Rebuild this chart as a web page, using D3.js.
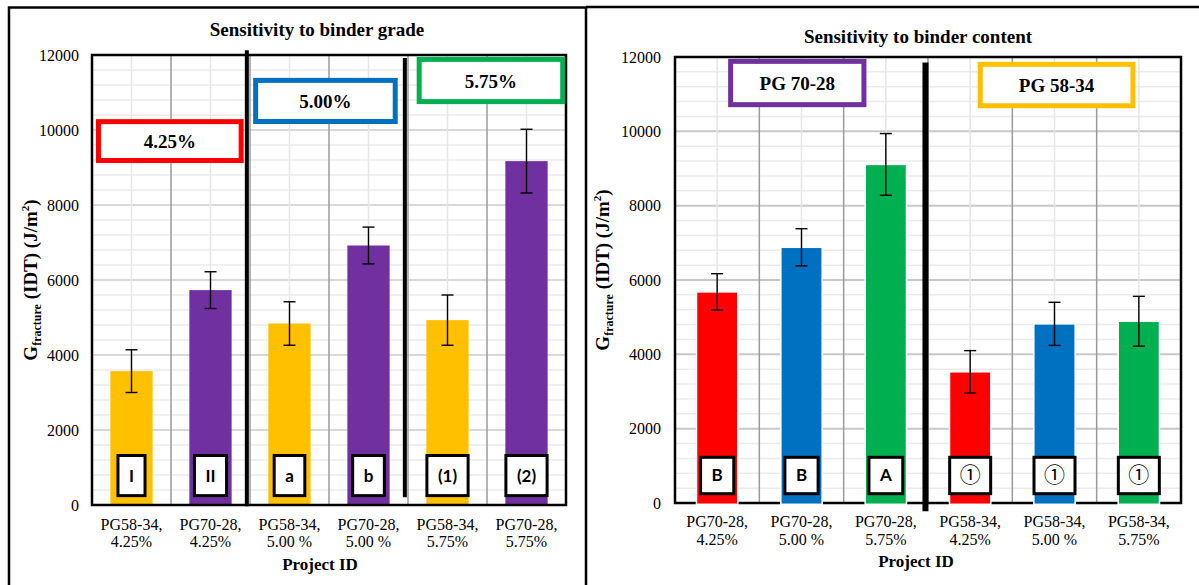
<!DOCTYPE html>
<html><head><meta charset="utf-8">
<script src="https://cdn.jsdelivr.net/npm/d3@7"></script>
<style>body{margin:0;background:#fff}svg{display:block}</style>
</head><body><svg id="c" width="1199" height="585"></svg>
<script>
// ---------- data ----------
const leftCategories = ["PG58-34, 4.25%","PG70-28, 4.25%","PG58-34, 5.00 %","PG70-28, 5.00 %","PG58-34, 5.75%","PG70-28, 5.75%"];
const leftValues = [3570, 5730, 4840, 6920, 4930, 9170];
const leftErrors = [570, 490, 580, 490, 670, 850];
const leftMarkers = ["I","II","a","b","(1)","(2)"];
const leftGroupLabels = ["4.25%","5.00%","5.75%"];

const rightCategories = ["PG70-28, 4.25%","PG70-28, 5.00 %","PG70-28, 5.75%","PG58-34, 4.25%","PG58-34, 5.00 %","PG58-34, 5.75%"];
const rightValues = [5680, 6880, 9110, 3530, 4820, 4890];
const rightErrors = [490, 500, 830, 570, 580, 670];
const rightMarkers = ["B","B","A","\u2460","\u2460","\u2460"];
const rightGroupLabels = ["PG 70-28","PG 58-34"];

const yTicks = [0, 2000, 4000, 6000, 8000, 10000, 12000];

// ---------- styles / layout ----------
const leftColors = ["#FFC000","#7030A0","#FFC000","#7030A0","#FFC000","#7030A0"];
const rightColors = ["#FF0000","#0070C0","#00B050","#FF0000","#0070C0","#00B050"];
const SERIF = "'Liberation Serif','Times New Roman',serif";

const svg = d3.select("#c");

// panel borders
svg.append("path").attr("d","M9,590 V7.5 H586 V590").attr("fill","none").attr("stroke","#000").attr("stroke-width",2.5);
svg.append("path").attr("d","M586,7 H1199").attr("fill","none").attr("stroke","#000").attr("stroke-width",2.5);

function drawChart(cfg){
  const g = svg.append("g");
  const x = d3.scaleBand().domain(cfg.categories).range([cfg.x0, cfg.x1]).padding(0);
  const y = d3.scaleLinear().domain([0, 12000]).range([cfg.yB, cfg.yT]);
  const bw = x.bandwidth();
  const bx = i => cfg.x0 + i * bw; // band-unit position

  // minor horizontal grid
  g.append("g").selectAll("line").data(d3.range(400, 12000, 400).filter(v => v % 2000 !== 0)).join("line")
    .attr("x1", cfg.x0).attr("x2", cfg.x1).attr("y1", d => y(d)).attr("y2", d => y(d))
    .attr("stroke", "#ebebeb").attr("stroke-width", 1.5);
  // major horizontal grid
  g.append("g").selectAll("line").data(yTicks.slice(1, -1)).join("line")
    .attr("x1", cfg.x0).attr("x2", cfg.x1).attr("y1", d => y(d)).attr("y2", d => y(d))
    .attr("stroke", cfg.majorGrid).attr("stroke-width", 2);
  // vertical minor grid at band centres
  g.append("g").selectAll("line").data(cfg.categories).join("line")
    .attr("x1", d => x(d) + bw / 2).attr("x2", d => x(d) + bw / 2).attr("y1", cfg.yT).attr("y2", cfg.yB)
    .attr("stroke", "#e6e6e6").attr("stroke-width", 1.5);
  // vertical major grid at band boundaries
  g.append("g").selectAll("line").data(cfg.categories.slice(1)).join("line")
    .attr("x1", d => x(d)).attr("x2", d => x(d)).attr("y1", cfg.yT).attr("y2", cfg.yB)
    .attr("stroke", "#9a9a9a").attr("stroke-width", 1.5);

  const frame = () => g.append("rect").attr("x", cfg.x0).attr("y", cfg.yT)
    .attr("width", cfg.x1 - cfg.x0).attr("height", cfg.yB - cfg.yT)
    .attr("fill", "none").attr("stroke", "#000").attr("stroke-width", 2.5);
  if (!cfg.frameOnTop) frame();

  // bars
  const data = cfg.categories.map((c, i) => ({c, v: cfg.values[i], e: cfg.errors[i], col: cfg.colors[i], m: cfg.markers[i]}));
  const barW = bw * cfg.barFrac;
  g.append("g").selectAll("rect").data(data).join("rect")
    .attr("x", d => x(d.c) + (bw - barW) / 2).attr("width", barW)
    .attr("y", d => y(d.v)).attr("height", d => y(0) - y(d.v) + (cfg.frameOnTop ? 0 : 1.3))
    .attr("fill", d => d.col)
    .attr("stroke", cfg.barStroke || "none").attr("stroke-width", 1.5);

  // error bars
  const eg = g.append("g").attr("stroke", "#000").attr("stroke-width", 1.4);
  data.forEach(d => {
    const cx = x(d.c) + bw / 2;
    eg.append("line").attr("x1", cx).attr("x2", cx).attr("y1", y(d.v + d.e)).attr("y2", y(d.v - d.e));
    [d.v + d.e, d.v - d.e].forEach(v => eg.append("line").attr("x1", cx - 6).attr("x2", cx + 6).attr("y1", y(v)).attr("y2", y(v)));
  });

  if (cfg.frameOnTop) frame();

  // y axis labels
  const ya = g.append("g").attr("transform", `translate(${cfg.x0},0)`)
    .call(d3.axisLeft(y).tickValues(yTicks).tickSize(0).tickPadding(cfg.tickPad).tickFormat(d3.format("d")));
  ya.select(".domain").remove();
  ya.selectAll("text").attr("font-family", SERIF).attr("font-size", 16).attr("fill", "#000");

  // x axis labels (two lines)
  const xa = g.append("g").attr("transform", `translate(0,${cfg.yB})`)
    .call(d3.axisBottom(x).tickSize(0));
  xa.select(".domain").remove();
  xa.selectAll("text").each(function(d){
    const t = d3.select(this).attr("y", 0).attr("dy", null).text(null)
      .attr("font-family", SERIF).attr("font-size", 16).attr("fill", "#000");
    const parts = d.split(" ");
    t.append("tspan").attr("x", 0).attr("y", cfg.l1).text(parts[0]);
    t.append("tspan").attr("x", 0).attr("y", cfg.l2).text(parts.slice(1).join(" "));
  });

  // group annotation boxes
  cfg.groups.forEach((gr, i) => {
    const lay = cfg.groupLayout[i];
    const sw = 5;
    const X0 = bx(lay.from) + sw / 2, X1 = bx(lay.to) - sw / 2;
    const Y0 = y(lay.top) + sw / 2, Y1 = y(lay.bottom) - sw / 2;
    g.append("rect").attr("x", X0).attr("y", Y0).attr("width", X1 - X0).attr("height", Y1 - Y0)
      .attr("fill", "#fff").attr("stroke", lay.color).attr("stroke-width", sw);
    g.append("text").attr("x", (X0 + X1) / 2).attr("y", (Y0 + Y1) / 2 + 7)
      .attr("text-anchor", "middle").attr("font-family", SERIF).attr("font-weight", "bold")
      .attr("font-size", 19).text(gr);
  });

  // thick dividers
  cfg.dividers.forEach(dv => {
    g.append("line").attr("x1", bx(dv.at)).attr("x2", bx(dv.at))
      .attr("y1", y(dv.top)).attr("y2", y(dv.bottom))
      .attr("stroke", "#000").attr("stroke-width", dv.w);
  });

  // marker boxes
  data.forEach(d => {
    const cx = x(d.c) + bw / 2;
    const circ = /[^\x00-\x7f]/.test(d.m);
    const t = g.append("text").attr("x", cx).attr("text-anchor", "middle")
      .attr("font-family", circ ? "'Noto Sans CJK JP','DejaVu Sans',sans-serif" : "Lato,'Open Sans',sans-serif")
      .attr("font-weight", circ ? "normal" : "bold").attr("font-size", circ ? 21 : 17).text(d.m);
    const tw = t.node().getComputedTextLength();
    const w = Math.max(cfg.markMin, tw + (circ ? 20 : 22));
    const sw = 3;
    const Y0 = y(cfg.markTop) + sw / 2, Y1 = y(cfg.markBottom) - sw / 2;
    g.insert("rect", () => t.node()).attr("x", cx - w / 2).attr("y", Y0).attr("width", w).attr("height", Y1 - Y0)
      .attr("fill", "#fff").attr("stroke", "#000").attr("stroke-width", sw);
    t.attr("y", (Y0 + Y1) / 2 + (circ ? 7 : 6));
  });

  // titles
  g.append("text").attr("x", cfg.titleX).attr("y", cfg.titleY).attr("text-anchor", "middle")
    .attr("font-family", SERIF).attr("font-weight", "bold").attr("font-size", 19).text(cfg.title);
  g.append("text").attr("x", cfg.titleX + cfg.xTitleDx).attr("y", cfg.xTitleY).attr("text-anchor", "middle")
    .attr("font-family", SERIF).attr("font-weight", "bold").attr("font-size", 17).text("Project ID");
  const yt = g.append("text").attr("transform", `translate(${cfg.yTitleX},${cfg.yTitleY}) rotate(-90)`)
    .attr("text-anchor", "middle").attr("font-family", SERIF).attr("font-weight", "bold").attr("font-size", 19);
  yt.append("tspan").text("G");
  yt.append("tspan").attr("font-size", 12).attr("dy", 4).text("fracture");
  yt.append("tspan").attr("dy", -4).text(" (IDT) (J/m");
  yt.append("tspan").attr("font-size", 11).attr("dy", -8).text("2");
  yt.append("tspan").attr("dy", 8).text(")");
}

drawChart({
  categories: leftCategories, values: leftValues, errors: leftErrors, colors: leftColors, markers: leftMarkers,
  groups: leftGroupLabels,
  groupLayout: [
    {from: 0.05, to: 1.92, top: 10290, bottom: 9120, color: "#FF0000"},
    {from: 2.04, to: 3.87, top: 11390, bottom: 10160, color: "#0070C0"},
    {from: 4.11, to: 5.99, top: 11950, bottom: 10690, color: "#00B050"}
  ],
  dividers: [{at: 1.96, top: 12130, bottom: -30, w: 4}, {at: 3.96, top: 11920, bottom: 210, w: 4}],
  x0: 92, x1: 566, yT: 55, yB: 505, barFrac: 0.535, tickPad: 13,
  majorGrid: "#d9d9d9", frameOnTop: true,
  l1: 25, l2: 42, markTop: 1360, markBottom: 210, markMin: 26,
  title: "Sensitivity to binder grade", titleX: 317, titleY: 36, xTitleDx: 3, xTitleY: 570,
  yTitleX: 37, yTitleY: 280
});

drawChart({
  categories: rightCategories, values: rightValues, errors: rightErrors, colors: rightColors, markers: rightMarkers,
  groups: rightGroupLabels,
  groupLayout: [
    {from: 0.63, to: 2.27, top: 11950, bottom: 10650, color: "#7030A0"},
    {from: 3.59, to: 5.46, top: 11870, bottom: 10620, color: "#FFC000"}
  ],
  dividers: [{at: 2.97, top: 11850, bottom: -220, w: 6}],
  x0: 675, x1: 1181, yT: 57, yB: 503, barFrac: 0.49, tickPad: 14,
  majorGrid: "#c8c8c8", frameOnTop: false, barStroke: "#fff",
  l1: 24, l2: 42, markTop: 1270, markBottom: 210, markMin: 28,
  title: "Sensitivity to binder content", titleX: 918, titleY: 43, xTitleDx: -2, xTitleY: 567,
  yTitleX: 609, yTitleY: 270
});
</script></body></html>
